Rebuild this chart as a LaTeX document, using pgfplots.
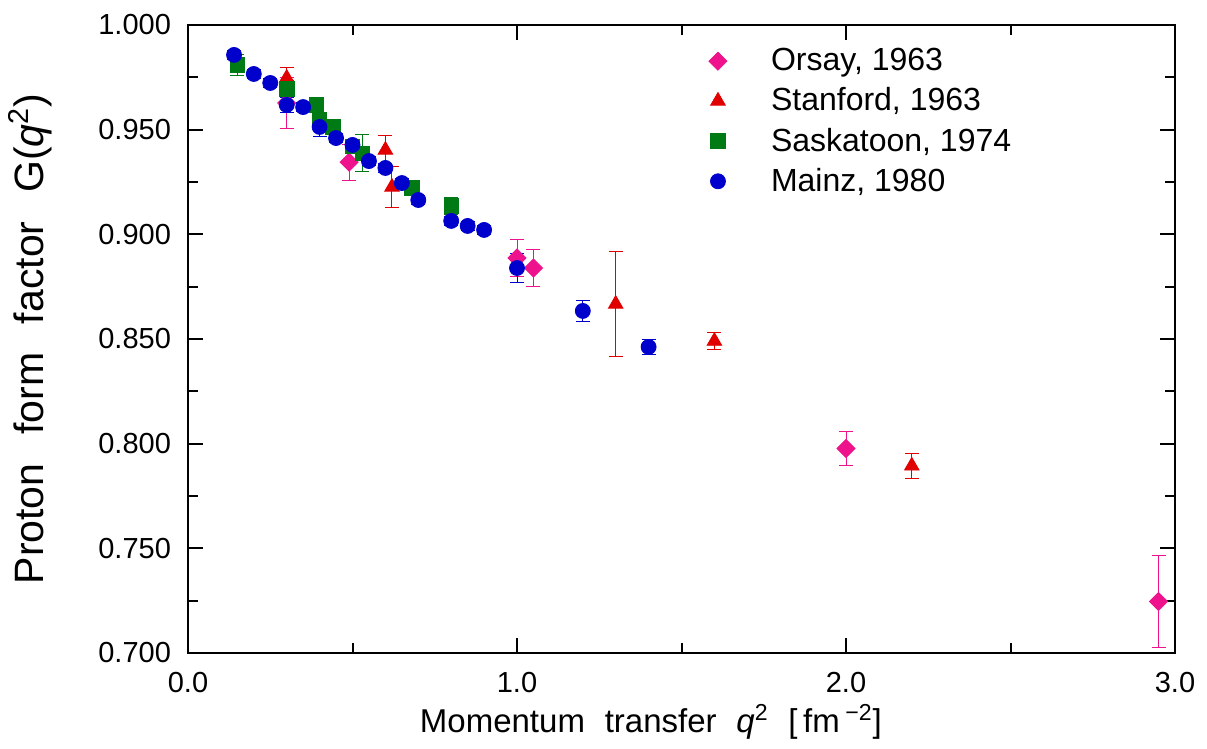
\documentclass[border=0pt]{standalone}
\usepackage{fontspec}
\setmainfont{Liberation Sans}
\usepackage{pgfplots}
\pgfplotsset{compat=1.18}

\definecolor{cOrsay}{RGB}{238,18,140}
\definecolor{cStanford}{RGB}{224,0,0}
\definecolor{cSask}{RGB}{0,122,20}
\definecolor{cMainz}{RGB}{0,0,204}

\begin{document}
\begin{tikzpicture}
  \begin{axis}[
      scale only axis,
      width=493.5pt, height=314pt,
      xmin=0, xmax=3,
      ymin=0.7, ymax=1.0,
      xtick={0,1,2,3},
      minor xtick={0.5,1.5,2.5},
      ytick={0.70,0.75,0.80,0.85,0.90,0.95,1.00},
      minor ytick={0.725,0.775,0.825,0.875,0.925,0.975},
      tick align=inside,
      major tick length=7.5pt,
      minor tick length=5pt,
      every tick/.style={black, line width=1pt},
      axis line style={line width=1.3pt},
      ticklabel style={font=\fontsize{14.5}{16}\selectfont},
      /pgf/number format/assume math mode=true,
      xticklabel style={yshift=-6pt, /pgf/number format/.cd, fixed, fixed zerofill, precision=1},
      yticklabel style={xshift=-5pt, /pgf/number format/.cd, fixed, fixed zerofill, precision=3},
      xlabel={Momentum\hspace{0.6em}transfer\hspace{0.6em}\textit{q}\textsuperscript{2}\hspace{0.6em}[\,fm\,\textsuperscript{−2}]},
      ylabel={Proton\hspace{0.7em}form\hspace{0.7em}factor\hspace{0.7em}G(\textit{q}\textsuperscript{2})},
      every axis x label/.style={at={(axis description cs:0.469,-0.11)}, anchor=center,
        font=\fontsize{16.5}{18}\selectfont},
      every axis y label/.style={at={(axis description cs:-0.16,0.5)}, rotate=90, anchor=center,
        font=\fontsize{20.5}{22}\selectfont},
      legend style={draw=none, fill=none,
        at={(axis description cs:0.5213,0.976)}, anchor=north west,
        font=\fontsize{16}{18}\selectfont, row sep=3pt,
        /tikz/every odd column/.append style={column sep=20pt}},
      legend cell align=left,
      error bars/y dir=both,
      error bars/y explicit,
      error bars/error bar style={line width=0.5pt},
      error bars/error mark options={rotate=90, line width=0.5pt, mark size=3.5pt},
  ]
  % Orsay, 1963
  \addplot[only marks, mark=square*, mark size=3.2pt, mark options={rotate=45}, color=cOrsay]
    coordinates {
      (0.30,0.9627) +- (0,0.012)
      (0.49,0.9345) +- (0,0.0086)
      (1.00,0.8887) +- (0,0.009)
      (1.05,0.8839) +- (0,0.009)
      (2.00,0.7977) +- (0,0.0079)
      (2.95,0.7246) +- (0,0.022)
    };
  \addlegendentry{Orsay, 1963}
  % Stanford, 1963
  \addplot[only marks, mark=triangle*, mark size=4.2pt, color=cStanford]
    coordinates {
      (0.30,0.9747) +- (0,0.005)
      (0.60,0.9403) +- (0,0.007)
      (0.62,0.9226) +- (0,0.010)
      (1.30,0.8667) +- (0,0.025)
      (1.60,0.8490) +- (0,0.004)
      (2.20,0.7894) +- (0,0.006)
    };
  \addlegendentry{Stanford, 1963}
  % Saskatoon, 1974
  \addplot[only marks, mark=square*, mark size=3.6pt, color=cSask]
    coordinates {
      (0.15,0.9809) +- (0,0.005)
      (0.30,0.9694) +- (0,0.004)
      (0.39,0.9618) +- (0,0.003)
      (0.40,0.9546) +- (0,0.003)
      (0.44,0.9513) +- (0,0.003)
      (0.50,0.9420) +- (0,0.003)
      (0.53,0.9388) +- (0,0.009)
      (0.68,0.9221) +- (0,0.003)
      (0.80,0.9135) +- (0,0.004)
    };
  \addlegendentry{Saskatoon, 1974}
  % Mainz, 1980
  \addplot[only marks, mark=*, mark size=3.75pt, color=cMainz]
    coordinates {
      (0.14,0.9857) +- (0,0.002)
      (0.20,0.9766) +- (0,0.002)
      (0.25,0.9723) +- (0,0.002)
      (0.30,0.9618) +- (0,0.0036)
      (0.35,0.9608) +- (0,0.002)
      (0.40,0.9513) +- (0,0.0048)
      (0.45,0.9460) +- (0,0.002)
      (0.50,0.9427) +- (0,0.002)
      (0.55,0.9350) +- (0,0.002)
      (0.60,0.9317) +- (0,0.002)
      (0.65,0.9245) +- (0,0.002)
      (0.70,0.9164) +- (0,0.002)
      (0.80,0.9064) +- (0,0.002)
      (0.85,0.9040) +- (0,0.002)
      (0.90,0.9021) +- (0,0.002)
      (1.00,0.8839) +- (0,0.007)
      (1.20,0.8634) +- (0,0.005)
      (1.40,0.8462) +- (0,0.0036)
    };
  \addlegendentry{Mainz, 1980}
  \coordinate (ll) at (rel axis cs:0,0);
  \coordinate (ur) at (rel axis cs:1,1);
  \end{axis}
  \pgfresetboundingbox
  \path[use as bounding box] ([shift={(-94pt,-47.5pt)}]ll) rectangle ([shift={(16pt,12.5pt)}]ur);
\end{tikzpicture}
\end{document}
